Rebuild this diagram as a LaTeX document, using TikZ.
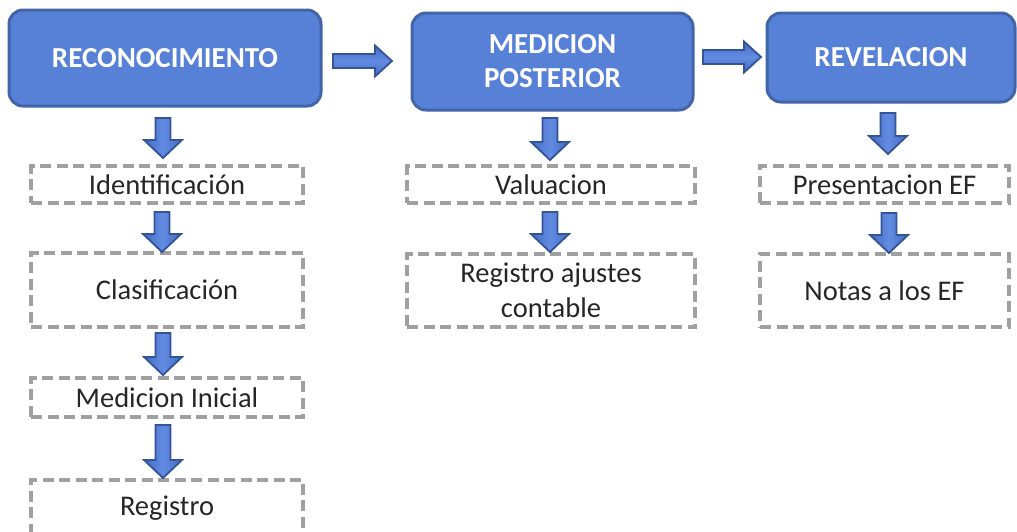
\documentclass[tikz,border=0pt]{standalone}
\usepackage{fontspec}
\setmainfont{Carlito}
\definecolor{hdfill}{RGB}{87,129,215}
\definecolor{hdborder}{RGB}{66,100,168}
\definecolor{arrfill}{RGB}{68,106,192}
\definecolor{arrlight}{RGB}{98,140,226}
\definecolor{arrline}{RGB}{52,84,152}
\definecolor{dashgray}{RGB}{160,160,160}
\definecolor{txt}{RGB}{38,38,38}
\newcommand\downblk[3]{%
  \path[blkarrow,left color=arrfill,right color=arrfill,middle color=arrlight]
    (#1-7.5,#2) -- (#1+7.5,#2) -- (#1+7.5,#3-18) -- (#1+19,#3-18) -- (#1,#3)
    -- (#1-19,#3-18) -- (#1-7.5,#3-18) -- cycle;}
\newcommand\rightblk[3]{%
  \path[blkarrow,top color=arrfill,bottom color=arrfill,middle color=arrlight]
    (#1,#3-7) -- (#2-17,#3-7) -- (#2-17,#3-15.5) -- (#2,#3) -- (#2-17,#3+15.5)
    -- (#2-17,#3+7) -- (#1,#3+7) -- cycle;}
\begin{document}
\begin{tikzpicture}[x=1pt,y=-1pt,
  head/.style={draw=hdborder, fill=hdfill, line width=3pt, rounded corners=14pt,
    text=white, font=\fontsize{29}{34}\selectfont\bfseries, align=center, inner sep=0pt},
  sbox/.style={draw=dashgray, line width=3.2pt, dash pattern=on 11pt off 5.5pt,
    font=\fontsize{28.5}{35}\selectfont, text=txt, align=center, inner sep=0pt},
  blkarrow/.style={draw=arrline, line width=1.8pt, line join=miter}]
\useasboundingbox (0,0) rectangle (1017,531);
\clip (0,0) rectangle (1017,531);
% headers
\node[head, minimum width=312pt, minimum height=96pt] (h1) at (165,58) {RECONOCIMIENTO};
\node[head, minimum width=281pt, minimum height=97pt] (h2) at (552.5,61.5) {MEDICION\\POSTERIOR};
\node[head, minimum width=248pt, minimum height=89pt] (h3) at (891,57.5) {REVELACION};
% column 1
\node[sbox, minimum width=272pt, minimum height=37pt] (a1) at (167,184.5) {Identificación};
\node[sbox, minimum width=272pt, minimum height=74pt] (a2) at (167,290) {Clasificación};
\node[sbox, minimum width=272pt, minimum height=39pt] (a3) at (167,397.5) {Medicion Inicial};
\node[sbox, minimum width=272pt, minimum height=56pt] (a4) at (167,508) {Registro};
% column 2
\node[sbox, minimum width=288pt, minimum height=37pt] (b1) at (551,184.5) {Valuacion};
\node[sbox, minimum width=288pt, minimum height=73pt] (b2) at (551,290.5) {Registro ajustes\\contable};
% column 3
\node[sbox, minimum width=249pt, minimum height=37pt] (c1) at (884.5,184.5) {Presentacion EF};
\node[sbox, minimum width=249pt, minimum height=73pt] (c2) at (884.5,290.5) {Notas a los EF};
% arrows
\rightblk{333}{392}{61}
\rightblk{703}{761}{57}
\downblk{163}{118}{158}
\downblk{162}{212}{252}
\downblk{163}{333}{375}
\downblk{163}{425}{478}
\downblk{550}{118}{160}
\downblk{550}{212}{252}
\downblk{888}{113}{154}
\downblk{889}{213}{253}
\end{tikzpicture}
\end{document}
